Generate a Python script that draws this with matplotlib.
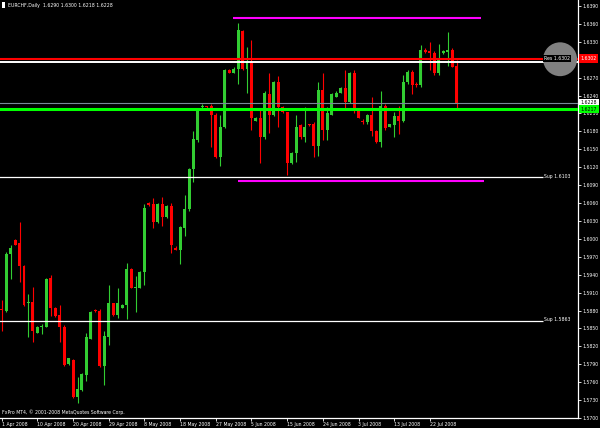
import matplotlib
matplotlib.use("Agg")
import matplotlib.pyplot as plt
import matplotlib.transforms as mtransforms
from matplotlib.patches import Ellipse, Rectangle

# EURCHF daily candles
opens = [1.5883, 1.5880, 1.5975, 1.5998, 1.5993, 1.5955, 1.5892, 1.5895, 1.5843, 1.5852,
         1.5853, 1.5935, 1.5885, 1.5872, 1.5853, 1.5790, 1.5797, 1.5735, 1.5747, 1.5772,
         1.5833, 1.5881, 1.5880, 1.5787, 1.5835, 1.5892, 1.5872, 1.5885, 1.5890, 1.5950,
         1.5917, 1.5918, 1.5945, 1.6060, 1.6058, 1.6028, 1.6058, 1.6037, 1.6055, 1.5984,
         1.5982, 1.6018, 1.6050, 1.6117, 1.6165, 1.6220, 1.6222, 1.6222, 1.6208, 1.6137,
         1.6188, 1.6283, 1.6278, 1.6285, 1.6348, 1.6285, 1.6295, 1.6198, 1.6202, 1.6170,
         1.6243, 1.6207, 1.6263, 1.6220, 1.6212, 1.6127, 1.6143, 1.6190, 1.6170, 1.6192,
         1.6192, 1.6155, 1.6250, 1.6182, 1.6208, 1.6238, 1.6245, 1.6252, 1.6230, 1.6277,
         1.6215, 1.6198, 1.6195, 1.6207, 1.6180, 1.6162, 1.6223, 1.6188, 1.6190, 1.6205,
         1.6198, 1.6262, 1.6280, 1.6260, 1.6257, 1.6317, 1.6315, 1.6312, 1.6278, 1.6312,
         1.6313, 1.6317, 1.6290]
highs = [1.5898, 1.5978, 1.5990, 1.5999, 1.6028, 1.5957, 1.5908, 1.5920, 1.5854, 1.5858,
         1.5935, 1.5940, 1.5886, 1.5890, 1.5855, 1.5801, 1.5798, 1.5768, 1.5775, 1.5843,
         1.5880, 1.5883, 1.5882, 1.5845, 1.5922, 1.5893, 1.5917, 1.5891, 1.5960, 1.5951,
         1.5938, 1.5947, 1.6058, 1.6062, 1.6068, 1.6060, 1.6070, 1.6057, 1.6060, 1.5988,
         1.6022, 1.6073, 1.6119, 1.6180, 1.6217, 1.6225, 1.6223, 1.6225, 1.6210, 1.6207,
         1.6285, 1.6285, 1.6287, 1.6362, 1.6350, 1.6322, 1.6333, 1.6204, 1.6215, 1.6247,
         1.6278, 1.6264, 1.6272, 1.6222, 1.6213, 1.6145, 1.6208, 1.6192, 1.6220, 1.6193,
         1.6195, 1.6263, 1.6277, 1.6220, 1.6244, 1.6247, 1.6254, 1.6282, 1.6279, 1.6283,
         1.6217, 1.6200, 1.6209, 1.6237, 1.6182, 1.6247, 1.6225, 1.6193, 1.6213, 1.6222,
         1.6275, 1.6282, 1.6282, 1.6262, 1.6325, 1.6319, 1.6330, 1.6314, 1.6327, 1.6317,
         1.6347, 1.6319, 1.6300]
lows = [1.5845, 1.5878, 1.5932, 1.5989, 1.5928, 1.5888, 1.5835, 1.5827, 1.5842, 1.5840,
        1.5852, 1.5870, 1.5869, 1.5827, 1.5787, 1.5789, 1.5733, 1.5725, 1.5745, 1.5762,
        1.5832, 1.5877, 1.5785, 1.5755, 1.5823, 1.5871, 1.5867, 1.5884, 1.5865, 1.5917,
        1.5878, 1.5917, 1.5922, 1.6055, 1.6018, 1.6027, 1.6022, 1.6035, 1.5977, 1.5981,
        1.5958, 1.6005, 1.6047, 1.6095, 1.6163, 1.6218, 1.6219, 1.6153, 1.6135, 1.6122,
        1.6186, 1.6277, 1.6277, 1.6260, 1.6283, 1.6245, 1.6183, 1.6197, 1.6127, 1.6168,
        1.6178, 1.6205, 1.6187, 1.6210, 1.6107, 1.6125, 1.6128, 1.6168, 1.6162, 1.6189,
        1.6137, 1.6138, 1.6165, 1.6165, 1.6207, 1.6237, 1.6244, 1.6215, 1.6228, 1.6210,
        1.6202, 1.6193, 1.6193, 1.6172, 1.6160, 1.6153, 1.6183, 1.6187, 1.6170, 1.6175,
        1.6196, 1.6260, 1.6242, 1.6255, 1.6255, 1.6312, 1.6283, 1.6275, 1.6275, 1.6310,
        1.6290, 1.6287, 1.6218]
closes = [1.5881, 1.5975, 1.5985, 1.5990, 1.5955, 1.5890, 1.5895, 1.5845, 1.5853, 1.5853,
          1.5933, 1.5885, 1.5870, 1.5852, 1.5788, 1.5800, 1.5735, 1.5748, 1.5773, 1.5835,
          1.5878, 1.5879, 1.5787, 1.5837, 1.5892, 1.5872, 1.5892, 1.5890, 1.5950, 1.5918,
          1.5919, 1.5945, 1.6052, 1.6057, 1.6028, 1.6058, 1.6037, 1.6055, 1.5990, 1.5982,
          1.6020, 1.6050, 1.6117, 1.6167, 1.6215, 1.6223, 1.6220, 1.6207, 1.6137, 1.6188,
          1.6283, 1.6278, 1.6285, 1.6350, 1.6285, 1.6297, 1.6202, 1.6202, 1.6170, 1.6245,
          1.6207, 1.6262, 1.6220, 1.6212, 1.6127, 1.6143, 1.6188, 1.6170, 1.6187, 1.6190,
          1.6155, 1.6250, 1.6182, 1.6210, 1.6242, 1.6245, 1.6252, 1.6230, 1.6277, 1.6215,
          1.6203, 1.6195, 1.6207, 1.6180, 1.6162, 1.6222, 1.6185, 1.6192, 1.6205, 1.6198,
          1.6262, 1.6280, 1.6258, 1.6257, 1.6317, 1.6313, 1.6312, 1.6277, 1.6303, 1.6315,
          1.6317, 1.6288, 1.6228]

date_labels = ["1 Apr 2008", "10 Apr 2008", "20 Apr 2008", "29 Apr 2008", "8 May 2008",
               "18 May 2008", "27 May 2008", "5 Jun 2008", "15 Jun 2008", "24 Jun 2008",
               "3 Jul 2008", "13 Jul 2008", "22 Jul 2008"]

# horizontal levels drawn on the chart
resistance = 1.6302
resistance_b = 1.6297
green_level = 1.6217
supports = [1.6103, 1.5863]
channel_top = 1.6370
channel_bottom = 1.6097

price_top = 1.6400
price_step = 0.0030

UP = "#32cd32"
DOWN = "#ff0000"

fig = plt.figure(figsize=(6, 4.28), dpi=100, facecolor="black")
ax = fig.add_axes([0, 10 / 428, 578 / 600, 418 / 428], facecolor="black")

n = len(opens)
xs = list(range(n))
cols = [UP if c >= o else DOWN for o, c in zip(opens, closes)]
bottoms = [min(o, c) for o, c in zip(opens, closes)]
heights = [max(abs(c - o), 0.00018) for o, c in zip(opens, closes)]

ax.vlines(xs, lows, highs, colors=cols, lw=0.8, zorder=2)
ax.bar(xs, heights, bottom=bottoms, width=0.67, color=cols, linewidth=0, zorder=2)

# levels / objects
ax.axhline(resistance, color="red", lw=1.5, zorder=3)
ax.axhline(resistance_b, color="white", lw=1.4, zorder=3)
ax.axhline(closes[-1], color="#778899", lw=0.8, zorder=3)
ax.axhline(green_level, color="#00ff00", lw=2.2, zorder=3)
for s in supports:
    ax.hlines(s, -1, 121.4, color="white", lw=0.9, zorder=3)
    ax.text(121.6, s + 0.0002, f"Sup {s:.4f}", color="white", fontsize=3.3,
            ha="left", va="center", zorder=5)
ax.hlines(channel_top, 51.9, 107.5, color="#ff00ff", lw=1.5, zorder=3)
ax.hlines(channel_bottom, 53.0, 108.1, color="#ff00ff", lw=1.5, zorder=3)

ax.add_patch(Ellipse((125.2, 1.63008), 7.62, 0.00567, fc="#808080", ec="none", zorder=4))
ax.text(121.6, resistance, f"Res {resistance:.4f}", color="white", fontsize=3.3,
        ha="left", va="center", zorder=6,
        bbox=dict(boxstyle="square,pad=0.25", fc="black", ec="none"))

ax.set_xlim(-1.7 / 4.46, (578 - 1.7) / 4.46)
ax.set_ylim(price_top - 418 / 6000, price_top)

# axes styling
for side in ["top", "left"]:
    ax.spines[side].set_visible(False)
for side in ["right", "bottom"]:
    ax.spines[side].set_color("white")
    ax.spines[side].set_linewidth(0.9)

# price scale; labels hidden where a coloured price box sits on top
boxed = [resistance, closes[-1], green_level]
yticks = [1.6390 - price_step * k for k in range(24)]
ylabels = ["" if min(abs(v - b) for b in boxed) < 0.0006 else f"{v:.4f}" for v in yticks]
ax.yaxis.tick_right()
ax.set_yticks(yticks, ylabels)
ax.tick_params(axis="y", colors="white", length=2.5, width=0.6, labelsize=3.3, pad=1)

ax.set_xticks(list(range(0, 8 * len(date_labels), 8)), date_labels)
for lbl in ax.get_xticklabels():
    lbl.set_ha("left")
ax.tick_params(axis="x", colors="white", length=2.5, width=0.6, labelsize=3.3, pad=0.5)

# price labels on the right scale
trans = mtransforms.blended_transform_factory(ax.transAxes, ax.transData)
for price, face, txt in [(resistance, "red", "white"),
                         (closes[-1], "white", "black"),
                         (green_level, "#00ff00", "black")]:
    ax.text(1 + 2.5 / 578, price, f"{price:.4f}", transform=trans, color=txt,
            fontsize=3.3, ha="left", va="center", clip_on=False, zorder=7,
            bbox=dict(boxstyle="square,pad=0.35", fc=face, ec="none"))

# header and footer text
fig.patches.append(Rectangle((2 / 600, 1 - 8 / 428), 3 / 600, 6 / 428,
                             transform=fig.transFigure, fc="white", ec="none"))
fig.text(8 / 600, 1 - 5 / 428,
         f"EURCHF,Daily  {opens[-1]:.4f} {highs[-1]:.4f} {lows[-1]:.4f} {closes[-1]:.4f}",
         color="white", fontsize=3.3, va="center")
fig.text(2 / 600, 1 - 412 / 428, "FxPro MT4, \u00a9 2001-2008 MetaQuotes Software Corp.",
         color="white", fontsize=3.3, va="center")

fig.savefig("out.png", dpi=100, facecolor="black")
